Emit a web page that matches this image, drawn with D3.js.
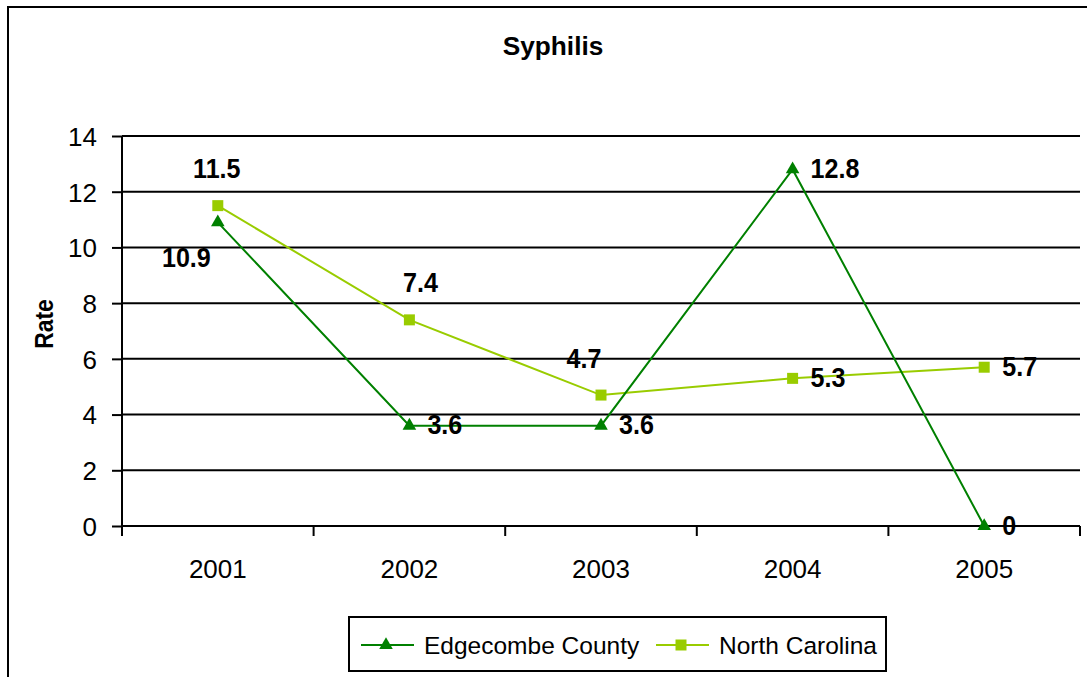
<!DOCTYPE html>
<html>
<meta charset="utf-8">
<style>
body { margin: 0; background: #fff; }
svg { display: block; }
text { font-family: 'Liberation Sans', Arial, sans-serif; fill: #000; }
.lbl { font-weight: bold; font-size: 26px; }
.grid line { stroke: #000; stroke-width: 2; }
</style>
<body>
<svg width="1087" height="677"></svg>
<script src="https://cdn.jsdelivr.net/npm/d3@7"></script>
<script>
var years = ["2001", "2002", "2003", "2004", "2005"];
var edgecombe = [10.9, 3.6, 3.6, 12.8, 0];
var northCarolina = [11.5, 7.4, 4.7, 5.3, 5.7];
var yTicks = [0, 2, 4, 6, 8, 10, 12, 14];
// where each value label sits relative to its point
var edgeLabelPos = ["leftBelow", "right", "right", "right", "right"];
var ncLabelPos = ["above", "aboveRight", "aboveLeft", "right", "right"];

var svg = d3.select("svg");
var plotL = 122, plotR = 1080, plotT = 136, plotB = 526;

var x = d3.scaleBand().domain(years).range([plotL, plotR]);
var y = d3.scaleLinear().domain([0, 14]).range([plotB, plotT]);

// outer frame
svg.append("rect").attr("x", 8).attr("y", 7).attr("width", 1100).attr("height", 700)
  .attr("fill", "none").attr("stroke", "#000").attr("stroke-width", 2);

svg.append("text").attr("class", "lbl")
  .attr("transform", "translate(553,55) scale(1.05,1)")
  .attr("text-anchor", "middle").style("font-size", "25px").text("Syphilis");

// gridlines
svg.append("g").attr("class", "grid").selectAll("line").data(yTicks).enter().append("line")
  .attr("x1", plotL).attr("x2", plotR)
  .attr("y1", function(d) { return y(d); }).attr("y2", function(d) { return y(d); });

var yAxis = svg.append("g").attr("transform", "translate(" + plotL + ",0)")
  .call(d3.axisLeft(y).tickValues(yTicks).tickSize(10).tickPadding(15));
yAxis.selectAll("text").style("font-size", "26px").attr("font-family", null).attr("dy", "0.36em");
yAxis.selectAll("line").attr("stroke-width", 2);
yAxis.select(".domain").remove();
yAxis.append("line").attr("y1", plotT).attr("y2", plotB + 10).attr("stroke", "#000").attr("stroke-width", 2);

var xAxis = svg.append("g").attr("transform", "translate(0," + plotB + ")")
  .call(d3.axisBottom(x).tickSize(0).tickPadding(0));
xAxis.select(".domain").remove();
xAxis.selectAll("text").style("font-size", "26px").attr("font-family", null)
  .attr("dy", null).attr("y", 52);
// ticks at category boundaries
xAxis.selectAll(".bound").data(d3.range(years.length + 1)).enter().append("line")
  .attr("x1", function(i) { return plotL + i * x.bandwidth(); })
  .attr("x2", function(i) { return plotL + i * x.bandwidth(); })
  .attr("y1", 0).attr("y2", 10).attr("stroke", "#000").attr("stroke-width", 2);

svg.append("text").attr("class", "lbl").style("font-size", "26px")
  .attr("transform", "translate(53,324) rotate(-90) scale(0.88,1)")
  .attr("text-anchor", "middle").text("Rate");

function cx(i) { return x(years[i]) + x.bandwidth() / 2; }

var line = d3.line().x(function(d, i) { return cx(i); }).y(function(d) { return y(d); });

var offsets = {
  above: [-1, -28, "middle"],
  aboveRight: [11, -28, "middle"],
  aboveLeft: [-17, -27, "middle"],
  right: [18, 8.5, "start"],
  leftBelow: [-7, 45, "end"]
};

function drawSeries(vals, color, shape, size, pos) {
  svg.append("path").datum(vals).attr("d", line)
    .attr("fill", "none").attr("stroke", color).attr("stroke-width", 2);
  svg.selectAll(null).data(vals).enter().append("path")
    .attr("transform", function(d, i) { return "translate(" + cx(i) + "," + y(d) + ")"; })
    .attr("d", d3.symbol().type(shape).size(size))
    .attr("fill", color);
  svg.selectAll(null).data(vals).enter().append("text").attr("class", "lbl")
    .attr("transform", function(d, i) {
      return "translate(" + (cx(i) + offsets[pos[i]][0]) + "," + (y(d) + offsets[pos[i]][1]) + ") scale(0.93,1)";
    })
    .style("font-size", "27px")
    .attr("text-anchor", function(d, i) { return offsets[pos[i]][2]; })
    .text(function(d) { return d; });
}

drawSeries(northCarolina, "#99cc00", d3.symbolSquare, 121, ncLabelPos);
drawSeries(edgecombe, "#008000", d3.symbolTriangle, 80, edgeLabelPos);

// legend
var lg = svg.append("g");
lg.append("rect").attr("x", 349).attr("y", 617).attr("width", 537).attr("height", 54)
  .attr("fill", "#fff").attr("stroke", "#000").attr("stroke-width", 2);
var items = [
  { name: "Edgecombe County", color: "#008000", shape: d3.symbolTriangle, size: 80, x: 361 },
  { name: "North Carolina", color: "#99cc00", shape: d3.symbolSquare, size: 121, x: 656 }
];
items.forEach(function(it) {
  lg.append("line").attr("x1", it.x).attr("x2", it.x + 53).attr("y1", 645).attr("y2", 645)
    .attr("stroke", it.color).attr("stroke-width", 2);
  lg.append("path").attr("transform", "translate(" + (it.x + 25) + ",645)")
    .attr("d", d3.symbol().type(it.shape).size(it.size)).attr("fill", it.color);
  lg.append("text").attr("x", it.x + 63).attr("y", 654).style("font-size", "24.5px").text(it.name);
});
</script>
</body>
</html>
